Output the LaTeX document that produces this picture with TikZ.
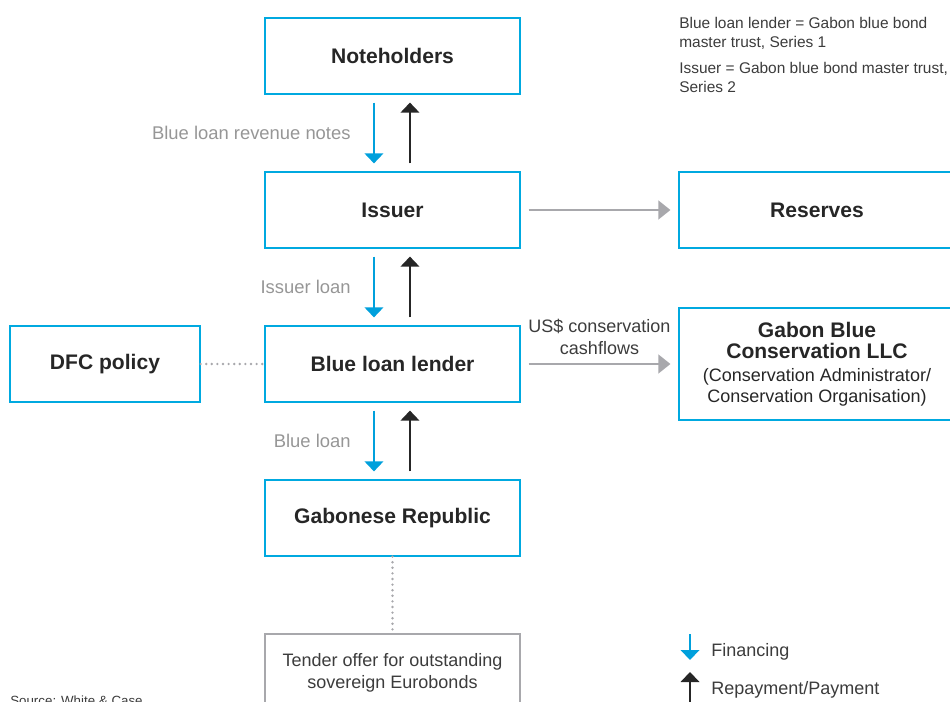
\documentclass[tikz,border=0pt]{standalone}
\usepackage{fontspec}
\setmainfont{Liberation Sans}
\usetikzlibrary{arrows.meta}

\definecolor{boxblue}{RGB}{0,169,224}
\definecolor{finblue}{RGB}{0,160,220}
\definecolor{flowgrey}{RGB}{168,168,172}
\definecolor{labelgrey}{RGB}{150,150,150}
\definecolor{textgrey}{RGB}{60,60,60}
\newcommand\plainline{\mdseries\fontsize{13.5}{15.75}\selectfont}

\begin{document}
\begin{tikzpicture}[
  x=0.75pt, y=-0.75pt,
  party/.style={draw=boxblue, line width=0.9pt, minimum width=191.25pt, minimum height=57pt, inner sep=0pt, align=center, text=black!85, font=\fontsize{15.8}{15.75}\selectfont\bfseries},
  side_party/.style={party, minimum width=207pt},
  tender_box/.style={draw=flowgrey, line width=0.9pt, minimum width=191.25pt, minimum height=57.75pt, inner sep=0pt, align=center, text=textgrey, font=\fontsize{13.5}{16.5}\selectfont},
  fin/.style={draw=finblue, line width=1.1pt, -{Triangle[width=14pt,length=7.5pt]}},
  pay/.style={draw=black!85, line width=1.1pt, -{Triangle[width=14pt,length=7.5pt]}},
  flow/.style={draw=flowgrey, line width=1.5pt, -{Triangle[width=14pt,length=9pt]}},
  link/.style={draw=flowgrey, line width=2pt, line cap=round, dash pattern=on 0pt off 4.2pt},
  flow_label/.style={text=labelgrey, font=\fontsize{13.8}{16}\selectfont, inner sep=0pt},
  note/.style={align=left, inner sep=0pt, text=textgrey, font=\fontsize{11.6}{14.25}\selectfont},
]
\useasboundingbox (0,0) rectangle (950,702);
\clip (0,0) rectangle (950,702);

% parties
\node (noteholders) [party] at (392.5,56) {Noteholders};
\node (issuer) [party] at (392.5,210) {Issuer};
\node (lender) [party] at (392.5,364) {Blue loan lender};
\node (republic) [party] at (392.5,518) {Gabonese Republic};
\node (dfc) [party, minimum width=142.5pt] at (105,364) {DFC policy};
\node (reserves) [side_party] at (817,210) {Reserves};
\node (conservation) [side_party, minimum height=84pt] at (817,364)
  {Gabon Blue\\Conservation LLC\\[1.5pt]\plainline (Conservation Administrator/\\\plainline Conservation Organisation)};
\node (tender) [tender_box] at (392.5,672.5) {Tender offer for outstanding\\sovereign Eurobonds};

% financing and repayment
\draw[fin] ([xshift=-13.9pt,yshift=-6pt]noteholders.south) -- node[left=17pt, flow_label] {Blue loan revenue notes} ([xshift=-13.9pt,yshift=6pt]issuer.north);
\draw[pay] ([xshift=13.1pt,yshift=6pt]issuer.north) -- ([xshift=13.1pt,yshift=-6pt]noteholders.south);
\draw[fin] ([xshift=-13.9pt,yshift=-6pt]issuer.south) -- node[left=17pt, flow_label] {Issuer loan} ([xshift=-13.9pt,yshift=6pt]lender.north);
\draw[pay] ([xshift=13.1pt,yshift=6pt]lender.north) -- ([xshift=13.1pt,yshift=-6pt]issuer.south);
\draw[fin] ([xshift=-13.9pt,yshift=-6pt]lender.south) -- node[left=17pt, flow_label] {Blue loan} ([xshift=-13.9pt,yshift=6pt]republic.north);
\draw[pay] ([xshift=13.1pt,yshift=6pt]republic.north) -- ([xshift=13.1pt,yshift=-6pt]lender.south);

% side flows
\draw[flow] ([xshift=6pt]issuer.east) -- ([xshift=-6pt]reserves.west);
\draw[flow] ([xshift=6pt]lender.east) -- node[above=6pt, align=center, inner sep=0pt, text=textgrey, font=\fontsize{13.5}{16.5}\selectfont] {US\$ conservation\\cashflows} ([xshift=-6pt]conservation.west);
\draw[link] (dfc.east) -- (lender.west);
\draw[link] (republic.south) -- (tender.north);

% notes
\node (note1) [note, anchor=north west] at (679,17) {Blue loan lender = Gabon blue bond\\master trust, Series 1};
\node (note2) [note, anchor=north west] at (679,62) {Issuer = Gabon blue bond master trust,\\Series 2};

% legend
\coordinate (fin_top) at (690,634);
\coordinate (fin_end) at (690,660);
\coordinate (pay_end) at (690,672);
\coordinate (pay_bottom) at (690,702);
\draw[fin] (fin_top) -- (fin_end);
\draw[pay] (pay_bottom) -- (pay_end);
\node (fin_text) [anchor=west, inner sep=0pt, text=textgrey, font=\fontsize{13.5}{16}\selectfont] at (711,652) {Financing};
\node (pay_text) [anchor=west, inner sep=0pt, text=textgrey, font=\fontsize{13.5}{16}\selectfont] at (711,690) {Repayment/Payment};

% source
\node (source) [anchor=north west, inner sep=0pt, text=textgrey, font=\fontsize{10}{12}\selectfont] at (10,696) {Source: White \& Case};
\end{tikzpicture}
\end{document}
